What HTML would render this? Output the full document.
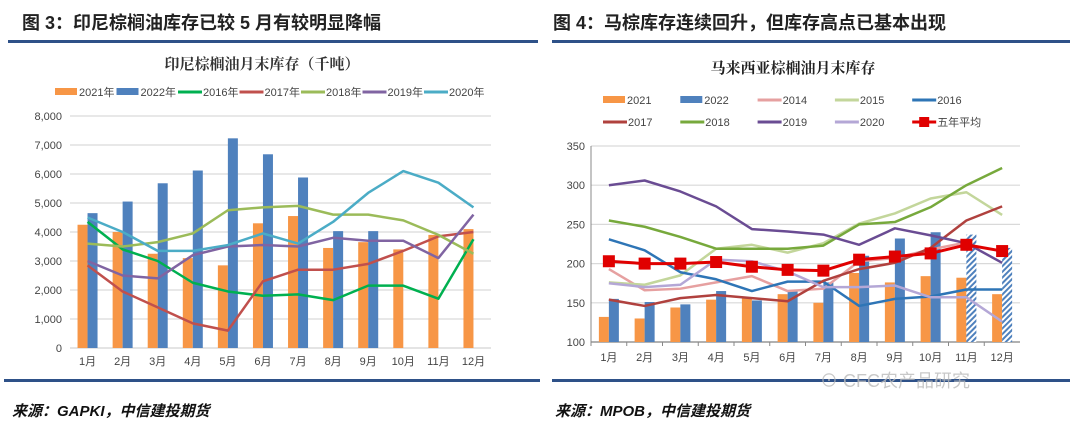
<!DOCTYPE html>
<html><head><meta charset="utf-8"><style>
body{margin:0;background:#fff;width:1080px;height:428px;overflow:hidden;font-family:"Liberation Sans","Noto Sans CJK SC",sans-serif}
svg{display:block}
</style></head><body>
<svg id="s" width="1080" height="428" xmlns="http://www.w3.org/2000/svg">
<defs>
<pattern id="hatch" width="4" height="4" patternUnits="userSpaceOnUse" patternTransform="rotate(45)"><rect width="4" height="4" fill="#fff"/><rect width="2" height="4" fill="#4f81bd"/></pattern>
</defs>
<text x="22" y="29" font-size="18" font-weight="bold" fill="#222" font-family="Liberation Sans,Noto Sans CJK SC,sans-serif">图 3：印尼棕榈油库存已较 5 月有较明显降幅</text>
<text x="553" y="29" font-size="18" font-weight="bold" fill="#222" font-family="Liberation Sans,Noto Sans CJK SC,sans-serif">图 4：马棕库存连续回升，但库存高点已基本出现</text>
<rect x="8" y="40" width="530" height="3" fill="#2e5188"/>
<rect x="552" y="40" width="518" height="3" fill="#2e5188"/>
<rect x="4" y="379" width="536" height="3" fill="#2e5188"/>
<rect x="552" y="379" width="518" height="3" fill="#2e5188"/>
<text x="12" y="416" font-size="15" font-weight="bold" font-style="italic" fill="#111">来源：GAPKI，中信建投期货</text>
<text x="555" y="416" font-size="15" font-weight="bold" font-style="italic" fill="#111">来源：MPOB，中信建投期货</text>
<text x="820" y="387" font-size="18" fill="#bbb" opacity="0.8">⊙ CFC农产品研究</text>
<text x="262" y="69" text-anchor="middle" font-size="15" font-weight="bold" fill="#333" font-family="Liberation Serif,Noto Serif CJK SC,serif">印尼棕榈油月末库存（千吨）</text>
<text x="793" y="73" text-anchor="middle" font-size="15" font-weight="bold" fill="#222" font-family="Liberation Serif,Noto Serif CJK SC,serif">马来西亚棕榈油月末库存</text>
<g id="L"></g><g id="R"></g>
</svg>
<script>
const months=["1月","2月","3月","4月","5月","6月","7月","8月","9月","10月","11月","12月"];
// Left chart data (thousand tons)
const lTicks=[0,1000,2000,3000,4000,5000,6000,7000,8000];
const l2021=[4250,4000,3250,3100,2850,4300,4550,3450,3650,3400,3900,4100];
const l2022=[4650,5050,5680,6120,7230,6680,5880,4030,4030];
const l2016=[4350,3400,3000,2250,1950,1800,1850,1650,2150,2150,1700,3750];
const l2017=[2850,1950,1400,850,600,2300,2700,2700,2900,3350,3850,4000];
const l2018=[3600,3500,3650,3950,4750,4850,4900,4600,4600,4400,3900,3250];
const l2019=[3000,2500,2400,3200,3500,3550,3500,3800,3700,3700,3100,4600];
const l2020=[4500,4000,3350,3350,3550,3950,3600,4350,5350,6100,5700,4850];
// Right chart data (10k tons)
const rTicks=[100,150,200,250,300,350];
const r2021=[132,130,144,154,156,161,150,188,176,184,182,161];
const r2022=[155,151,148,165,153,165,176,210,232,240];
const r2022est=[null,null,null,null,null,null,null,null,null,null,237,220];
const r2014=[193,166,168,176,184,165,168,203,207,218,227];
const r2015=[176,173,185,219,224,214,226,251,264,283,291,262];
const r2016=[231,217,189,180,165,177,177,146,155,158,167,167];
const r2017=[154,146,156,160,156,152,178,193,201,220,255,273];
const r2018=[255,247,234,219,219,219,223,250,253,272,300,322];
const r2019=[300,306,292,273,244,241,237,224,245,236,226,201];
const r2020=[175,170,173,205,203,190,170,170,172,157,157,126];
const rAvg=[203,200,200,202,196,192,191,205,209,213,224,216];

const NS="http://www.w3.org/2000/svg";
function mk(p,t,a){const e=document.createElementNS(NS,t);for(const k in a)e.setAttribute(k,a[k]);p.appendChild(e);return e;}

function chart(g,o){
  const X=i=>o.x0+(i+0.5)*(o.x1-o.x0)/12;
  const Y=v=>o.y0-(v-o.min)/(o.max-o.min)*(o.y0-o.y1);
  o.ticks.forEach(t=>{
    const gl=mk(g,'line',{x1:o.x0,x2:o.x1,y1:Y(t),y2:Y(t),stroke:'#d9d9d9','stroke-width':1.2});
    
    
    const tl=mk(g,'text',{x:o.x0-(o.axis?6:8),y:Y(t)+4,'text-anchor':'end','font-size':11,fill:'#444'});
    tl.textContent=o.fmt(t);
    
    
  });
  if(o.axis){
    const ax=mk(g,'line',{x1:o.x0,x2:o.x0,y1:o.y1,y2:o.y0,stroke:'#888'});
    
    
  }
  const xa=mk(g,'line',{x1:o.x0,x2:o.x1,y1:o.y0,y2:o.y0,stroke:o.axis?'#888':'#d9d9d9','stroke-width':1.2});
  
  
  months.forEach((m,i)=>{
    const t=mk(g,'text',{x:X(i),y:o.y0+(o.axis?19:17),'text-anchor':'middle','font-size':11,fill:'#444'});
    t.textContent=m;
    
    
    if(o.axis){const tk=mk(g,'line',{x1:o.x0+i*(o.x1-o.x0)/12,x2:o.x0+i*(o.x1-o.x0)/12,y1:o.y0,y2:o.y0+4,stroke:'#888'});
      
      }
  });
  o.bars.forEach(b=>{
    b.data.forEach((v,i)=>{ if(v==null)return;
      const r=mk(g,'rect',{x:X(i)+b.off,width:10,y:Y(v),height:o.y0-Y(v),fill:b.fill});
      
      
    });
  });
  o.lines.forEach(l=>{
    const pts=l.data.map((v,i)=>X(i)+','+Y(v)).join(' ');
    const p=mk(g,'polyline',{points:pts,fill:'none',stroke:l.c,'stroke-width':l.w||2.5,'stroke-linejoin':'round'});
    
    
    if(l.marker) l.data.forEach((v,i)=>{
      const m=mk(g,'rect',{x:X(i)-6,y:Y(v)-6,width:12,height:12,fill:l.c});
      
      
    });
  });
}

chart(document.getElementById('L'),{x0:70,x1:491,y0:348,y1:116,min:0,max:8000,ticks:lTicks,
  fmt:t=>t.toLocaleString('en-US'),axis:false,
  bars:[{name:'2021',data:l2021,fill:'#f79646',off:-10},{name:'2022',data:l2022,fill:'#4f81bd',off:0}],
  lines:[{name:'2016',data:l2016,c:'#00b050'},{name:'2017',data:l2017,c:'#c0504d'},{name:'2018',data:l2018,c:'#9bbb59'},
    {name:'2019',data:l2019,c:'#8064a2'},{name:'2020',data:l2020,c:'#4bacc6'}]});

chart(document.getElementById('R'),{x0:591,x1:1020,y0:342,y1:146,min:100,max:350,ticks:rTicks,
  fmt:t=>String(t),axis:true,
  bars:[{name:'2021',data:r2021,fill:'#f79646',off:-10},{name:'2022',data:r2022,fill:'#4f81bd',off:0},{name:'2022-estimate',data:r2022est,fill:'url(#hatch)',off:0}],
  lines:[{name:'2014',data:r2014,c:'#e6a0a0'},{name:'2015',data:r2015,c:'#c3d69b'},{name:'2016',data:r2016,c:'#2e75b6'},
    {name:'2017',data:r2017,c:'#b0413e'},{name:'2018',data:r2018,c:'#77a93c'},{name:'2019',data:r2019,c:'#6a4c93'},
    {name:'2020',data:r2020,c:'#b4a7d6'},{name:'five-year-avg',data:rAvg,c:'#e00000',w:3,marker:true}]});

// legends
const svg=document.getElementById('s');
function leg(x,y,label,c,type){
  const g=mk(svg,'g',{});
  
  
  if(type==='bar') mk(g,'rect',{x:x,y:y-4,width:22,height:7,fill:c});
  else { mk(g,'line',{x1:x,x2:x+24,y1:y,y2:y,stroke:c,'stroke-width':3});
    if(type==='mk') mk(g,'rect',{x:x+7,y:y-5,width:10,height:10,fill:c}); }
  const t=mk(g,'text',{x:x+(type==='bar'?24:25),y:y+4,'font-size':11,fill:'#444'});
  t.textContent=label;
}
[['2021年','#f79646','bar'],['2022年','#4f81bd','bar'],['2016年','#00b050'],['2017年','#c0504d'],['2018年','#9bbb59'],['2019年','#8064a2'],['2020年','#4bacc6']]
 .forEach((e,i)=>leg(55+i*61.5,92,e[0],e[1],e[2]));
[['2021','#f79646','bar'],['2022','#4f81bd','bar'],['2014','#e6a0a0'],['2015','#c3d69b'],['2016','#2e75b6'],
 ['2017','#b0413e'],['2018','#77a93c'],['2019','#6a4c93'],['2020','#b4a7d6'],['五年平均','#e00000','mk']]
 .forEach((e,i)=>leg(603+(i%5)*77.3,100+Math.floor(i/5)*22,e[0],e[1],e[2]));
</script>
</body></html>
